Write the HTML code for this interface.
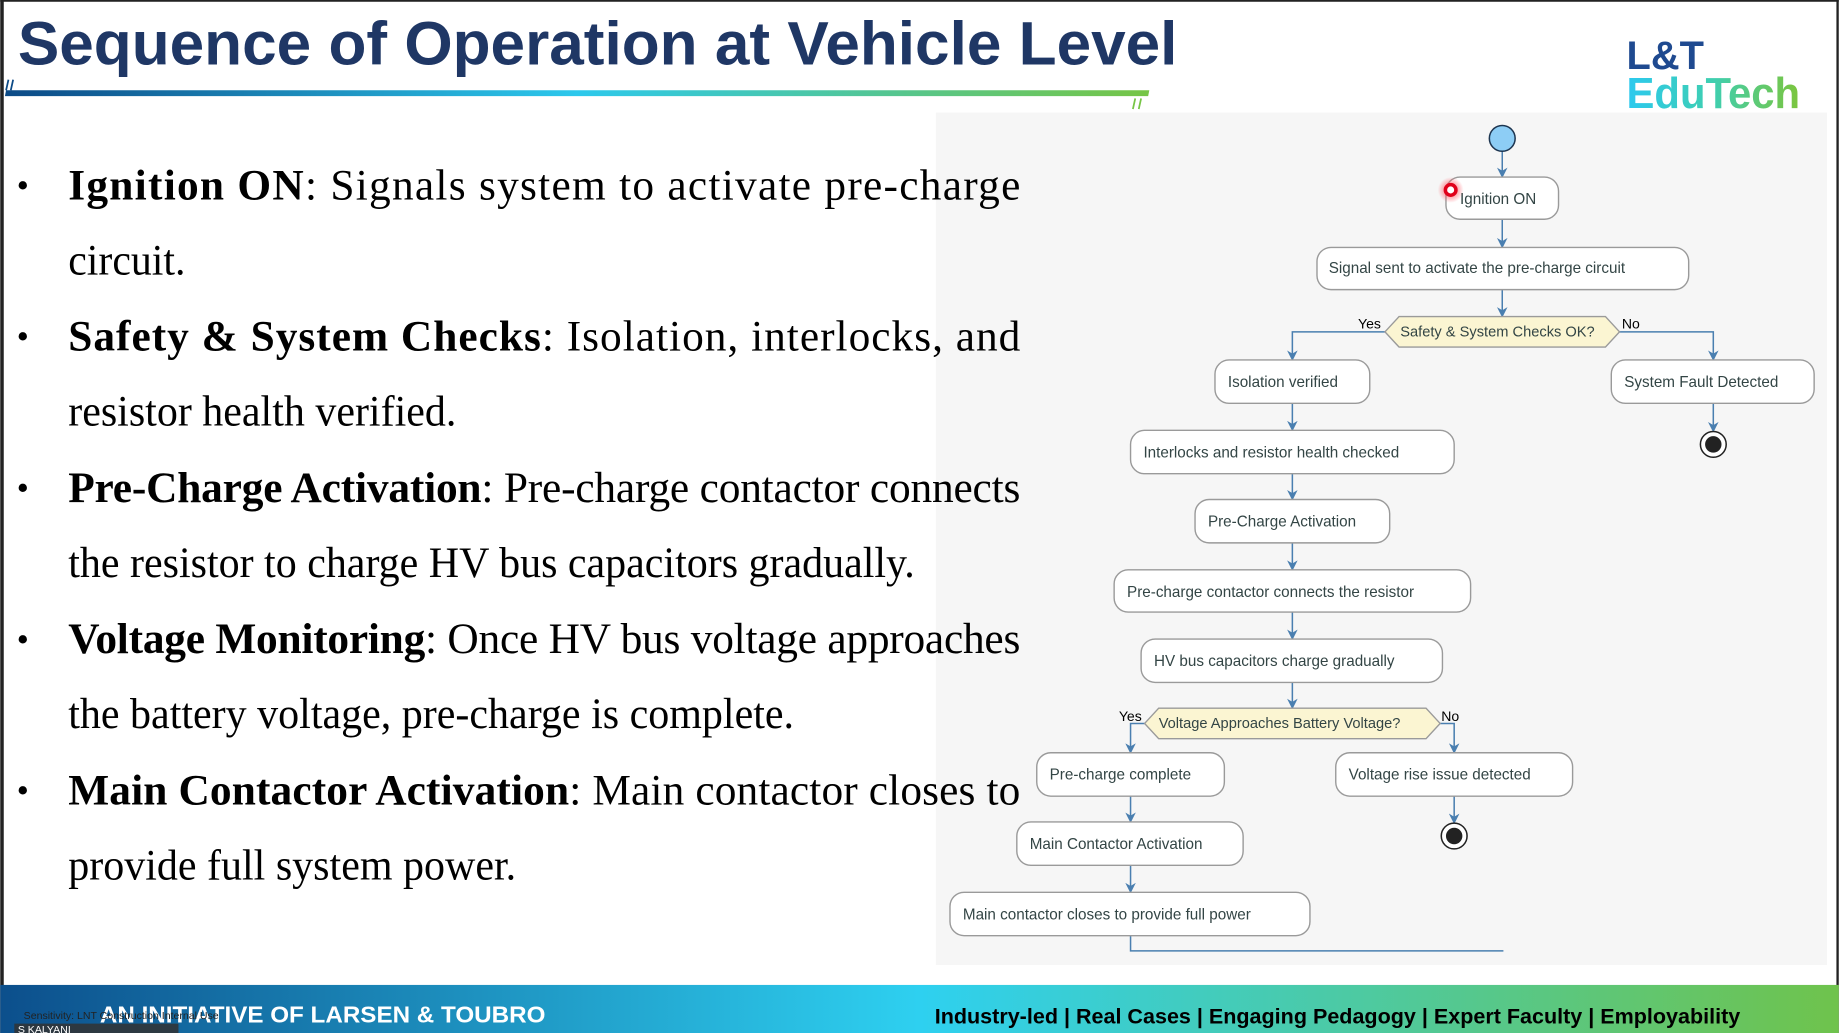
<!DOCTYPE html>
<html><head><meta charset="utf-8"><style>
html,body{margin:0;padding:0;background:#fff;overflow:hidden}
svg{display:block}
</style></head><body>
<svg width="1839" height="1033" viewBox="0 0 1568 881" xmlns="http://www.w3.org/2000/svg">
<defs>
<linearGradient id="bar" x1="0" x2="1" y1="0" y2="0">
<stop offset="0" stop-color="#0c4a86"/><stop offset="0.5" stop-color="#2cc8ec"/><stop offset="1" stop-color="#76c545"/>
</linearGradient>
<linearGradient id="foot" x1="0" x2="1" y1="0" y2="0">
<stop offset="0" stop-color="#0c4f8c"/><stop offset="0.5" stop-color="#2ed0f0"/><stop offset="1" stop-color="#6fc34c"/>
</linearGradient>
<linearGradient id="edu" x1="0" x2="1" y1="0" y2="0">
<stop offset="0" stop-color="#2cc9ef"/><stop offset="0.5" stop-color="#3fcfb0"/><stop offset="1" stop-color="#7cc53c"/>
</linearGradient>
<radialGradient id="glow"><stop offset="0.4" stop-color="#ff4d5a" stop-opacity="0.6"/><stop offset="1" stop-color="#ff4d5a" stop-opacity="0"/></radialGradient>
<marker id="ah" viewBox="0 0 10 10" refX="9" refY="5" markerWidth="9" markerHeight="9" orient="auto" markerUnits="userSpaceOnUse">
<path d="M0,0 L10,5 L0,10 L3,5 Z" fill="#4a7fb0"/>
</marker>
</defs>
<rect x="0" y="0" width="1568" height="881" fill="#fff"/>
<rect x="0" y="0" width="3" height="881" fill="#222"/>
<rect x="0" y="0" width="1568" height="1.5" fill="#222"/>
<rect x="1566" y="0" width="2" height="881" fill="#222"/>

<!-- title -->
<text x="15" y="55" font-family="'Liberation Sans', sans-serif" font-weight="bold" font-size="52" fill="#1f3765" textLength="989" lengthAdjust="spacingAndGlyphs">Sequence of Operation at Vehicle Level</text>
<path d="M5,77 L980,77 L979,82 L4,82 Z" fill="url(#bar)"/>
<path d="M7,68 L5,77 M11,68 L9,77" stroke="#0c4a86" stroke-width="1.5"/>
<path d="M968,84 L966,93 M973,84 L971,93" stroke="#76c545" stroke-width="1.5"/>

<!-- logo -->
<text x="1387" y="59" font-family="'Liberation Sans', sans-serif" font-weight="bold" font-size="34" fill="#1f4a90" textLength="66" lengthAdjust="spacingAndGlyphs">L&amp;T</text>
<text x="1387" y="92" font-family="'Liberation Sans', sans-serif" font-weight="bold" font-size="37" fill="url(#edu)" textLength="148" lengthAdjust="spacingAndGlyphs">EduTech</text>

<!-- diagram panel -->
<rect x="798" y="96" width="760" height="727" fill="#f6f6f6"/>

<!-- bullets -->
<g font-family="'Liberation Serif', serif" font-size="37" fill="#000">
<text x="14" y="168" font-size="30">•</text>
<text x="58" y="170" textLength="812" lengthAdjust="spacing"><tspan font-weight="bold">Ignition ON</tspan>: Signals system to activate pre-charge</text>
<text x="58" y="234" textLength="100" lengthAdjust="spacingAndGlyphs">circuit.</text>
<text x="14" y="297" font-size="30">•</text>
<text x="58" y="299" textLength="812" lengthAdjust="spacing"><tspan font-weight="bold">Safety &amp; System Checks</tspan>: Isolation, interlocks, and</text>
<text x="58" y="363" textLength="331" lengthAdjust="spacingAndGlyphs">resistor health verified.</text>
<text x="14" y="426" font-size="30">•</text>
<text x="58" y="428" textLength="812" lengthAdjust="spacing"><tspan font-weight="bold">Pre-Charge Activation</tspan>: Pre-charge contactor connects</text>
<text x="58" y="492" textLength="722" lengthAdjust="spacingAndGlyphs">the resistor to charge HV bus capacitors gradually.</text>
<text x="14" y="555" font-size="30">•</text>
<text x="58" y="557" textLength="812" lengthAdjust="spacing"><tspan font-weight="bold">Voltage Monitoring</tspan>: Once HV bus voltage approaches</text>
<text x="58" y="621" textLength="619" lengthAdjust="spacingAndGlyphs">the battery voltage, pre-charge is complete.</text>
<text x="14" y="684" font-size="30">•</text>
<text x="58" y="686" textLength="812" lengthAdjust="spacing"><tspan font-weight="bold">Main Contactor Activation</tspan>: Main contactor closes to</text>
<text x="58" y="750" textLength="382" lengthAdjust="spacingAndGlyphs">provide full system power.</text>
</g>

<!-- diagram -->
<g stroke="#4a7fb0" stroke-width="1.3" fill="none" marker-end="url(#ah)">
<path d="M1281,129 V151"/>
<path d="M1281,187 V211"/>
<path d="M1281,247 V270"/>
<path d="M1181,283 H1102 V307"/>
<path d="M1381,283 H1461 V307"/>
<path d="M1461,344 V368"/>
<path d="M1102,344 V367"/>
<path d="M1102,404 V426"/>
<path d="M1102,463 V486"/>
<path d="M1102,522 V545"/>
<path d="M1102,582 V604"/>
<path d="M976,617 H964 V642"/>
<path d="M1228,617 H1240 V642"/>
<path d="M1240,679 V702"/>
<path d="M964,679 V701"/>
<path d="M964,738 V761"/>
</g>
<path d="M964,798 V811 H1282" stroke="#4a7fb0" stroke-width="1.3" fill="none"/>

<circle cx="1281" cy="118" r="11" fill="#8dcdf5" stroke="#1d3550" stroke-width="1.3"/>

<g fill="#fff" stroke="#9a9a9a" stroke-width="1.2">
<rect x="1233" y="151" width="96" height="36" rx="12"/>
<rect x="1123" y="211" width="317" height="36" rx="12"/>
<rect x="1036" y="307" width="132" height="37" rx="12"/>
<rect x="1374" y="307" width="173" height="37" rx="12"/>
<rect x="964" y="367" width="276" height="37" rx="12"/>
<rect x="1019" y="426" width="166" height="37" rx="12"/>
<rect x="950" y="486" width="304" height="36" rx="12"/>
<rect x="973" y="545" width="257" height="37" rx="12"/>
<rect x="884" y="642" width="160" height="37" rx="12"/>
<rect x="1139" y="642" width="202" height="37" rx="12"/>
<rect x="867" y="701" width="193" height="37" rx="12"/>
<rect x="810" y="761" width="307" height="37" rx="12"/>
</g>
<g fill="#fbf5d2" stroke="#9a9a9a" stroke-width="1.2">
<path d="M1181,283 L1193,270 L1369,270 L1381,283 L1369,296 L1193,296 Z"/>
<path d="M976,617 L988,604 L1216,604 L1228,617 L1216,630 L988,630 Z"/>
</g>
<g>
<circle cx="1461" cy="379" r="11" fill="#fff" stroke="#222" stroke-width="1.3"/>
<circle cx="1461" cy="379" r="7" fill="#222"/>
<circle cx="1240" cy="713" r="11" fill="#fff" stroke="#222" stroke-width="1.3"/>
<circle cx="1240" cy="713" r="7" fill="#222"/>
</g>

<g font-family="'Liberation Sans', sans-serif" font-size="13" fill="#334545">
<text x="1245" y="174">Ignition ON</text>
<text x="1133" y="233">Signal sent to activate the pre-charge circuit</text>
<text x="1194" y="287" font-size="12.5">Safety &amp; System Checks OK?</text>
<text x="1047" y="330">Isolation verified</text>
<text x="1385" y="330">System Fault Detected</text>
<text x="975" y="390">Interlocks and resistor health checked</text>
<text x="1030" y="449">Pre-Charge Activation</text>
<text x="961" y="509">Pre-charge contactor connects the resistor</text>
<text x="984" y="568">HV bus capacitors charge gradually</text>
<text x="988" y="621" font-size="12.5">Voltage Approaches Battery Voltage?</text>
<text x="895" y="665">Pre-charge complete</text>
<text x="1150" y="665">Voltage rise issue detected</text>
<text x="878" y="724">Main Contactor Activation</text>
<text x="821" y="784">Main contactor closes to provide full power</text>
</g>
<g font-family="'Liberation Sans', sans-serif" font-size="12" fill="#000">
<text x="1158" y="280">Yes</text>
<text x="1383" y="280">No</text>
<text x="954" y="615">Yes</text>
<text x="1229" y="615">No</text>
</g>
<circle cx="1237" cy="162" r="11" fill="url(#glow)"/>
<circle cx="1237" cy="162" r="4.5" fill="#fff" stroke="#e0001a" stroke-width="3"/>

<!-- footer -->
<rect x="0" y="840" width="1568" height="41" fill="url(#foot)"/>
<text x="85" y="872" font-family="'Liberation Sans', sans-serif" font-weight="bold" font-size="20" fill="#fff" textLength="380" lengthAdjust="spacingAndGlyphs">AN INITIATIVE OF LARSEN &amp; TOUBRO</text>
<text x="20" y="869" font-family="'Liberation Sans', sans-serif" font-size="9" fill="#222">Sensitivity: LNT Construction Internal Use</text>
<rect x="12" y="873" width="140" height="8" fill="#333" opacity="0.85"/>
<text x="15" y="881" font-family="'Liberation Sans', sans-serif" font-size="9" fill="#fff">S KALYANI</text>
<text x="797" y="873" font-family="'Liberation Sans', sans-serif" font-weight="bold" font-size="18" fill="#000" textLength="687" lengthAdjust="spacingAndGlyphs">Industry-led | Real Cases | Engaging Pedagogy | Expert Faculty | Employability</text>
</svg>
</body></html>
